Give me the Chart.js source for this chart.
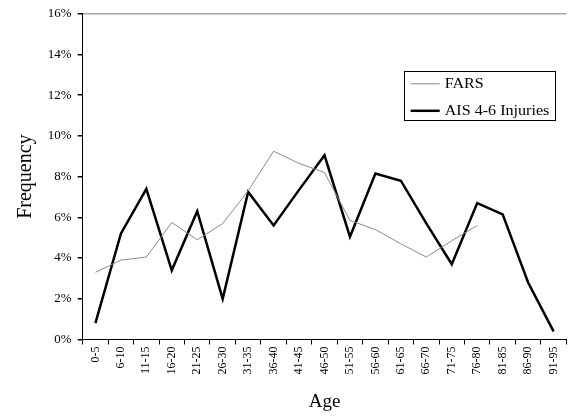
<!DOCTYPE html>
<html>
<head>
<meta charset="utf-8">
<script src="https://cdn.jsdelivr.net/npm/chart.js@4/dist/chart.umd.min.js"></script>
<style>
  html, body { margin: 0; padding: 0; background: #fff; overflow: hidden; }
  #wrap { width: 568px; height: 417px; overflow: hidden; }
  canvas { display: block; }
</style>
</head>
<body>
<div id="wrap"><canvas id="chart" width="570" height="417"></canvas></div>
<script>
// Age groups along the horizontal axis
const ageGroups = ['0-5', '6-10', '11-15', '16-20', '21-25', '26-30', '31-35', '36-40', '41-45',
  '46-50', '51-55', '56-60', '61-65', '66-70', '71-75', '76-80', '81-85', '86-90', '91-95'];

// Share of cases per age group, in percent
const farsFreq = [3.3, 3.9, 4.05, 5.75, 4.9, 5.7, 7.3, 9.25, 8.65, 8.2, 5.85, 5.4, 4.7, 4.05, 4.85, 5.6,
  null, null, null];
const aisFreq = [0.8, 5.2, 7.4, 3.4, 6.3, 2.0, 7.25, 5.6, 7.35, 9.05, 5.05, 8.15, 7.8, 5.7, 3.7, 6.7,
  6.15, 2.8, 0.4];

// Frequency axis range and step
const yMin = 0;
const yMax = 16;
const yStep = 2;

const serif = '"Liberation Serif", "Times New Roman", serif';

// Boxed legend drawn inside the plot area
const boxLegend = {
  id: 'boxLegend',
  afterDraw(chart, args, opts) {
    const ctx = chart.ctx;
    const a = chart.chartArea;
    const x = a.left + opts.x, y = a.top + opts.y;
    ctx.save();
    ctx.strokeStyle = '#000';
    ctx.lineWidth = 1;
    ctx.strokeRect(Math.round(x) + 0.5, Math.round(y) + 0.5, opts.w, opts.h);
    ctx.font = opts.fontSize + 'px ' + serif;
    ctx.fillStyle = '#000';
    ctx.textBaseline = 'middle';
    chart.data.datasets.forEach((ds, i) => {
      const ly = y + opts.firstRow + i * opts.rowGap;
      ctx.beginPath();
      ctx.strokeStyle = ds.borderColor;
      ctx.lineWidth = ds.borderWidth;
      ctx.moveTo(x + opts.sampleStart, ly);
      ctx.lineTo(x + opts.sampleStart + opts.sampleLen, ly);
      ctx.stroke();
      ctx.save();
      ctx.translate(x + opts.textStart, ly);
      ctx.scale(opts.stretch, 1);
      ctx.fillText(ds.label, 0, 1);
      ctx.restore();
    });
    ctx.restore();
  }
};

new Chart(document.getElementById('chart'), {
  type: 'line',
  data: {
    labels: ageGroups,
    datasets: [
      {
        label: 'FARS',
        data: farsFreq,
        borderColor: '#8a8a8a',
        borderWidth: 1,
        pointRadius: 0,
        tension: 0,
        spanGaps: false
      },
      {
        label: 'AIS 4-6 Injuries',
        data: aisFreq,
        borderColor: '#000000',
        borderWidth: 2.5,
        pointRadius: 0,
        tension: 0
      }
    ]
  },
  options: {
    responsive: false,
    animation: false,
    layout: { padding: { top: 10, right: 1, bottom: 0, left: 0 } },
    plugins: {
      legend: { display: false },
      tooltip: { enabled: false },
      boxLegend: {
        x: 321, y: 57, w: 151, h: 49,
        firstRow: 13, rowGap: 27,
        sampleStart: 7, sampleLen: 29, textStart: 41,
        fontSize: 14, stretch: 1.15
      }
    },
    scales: {
      x: {
        type: 'category',
        offset: true,
        grid: {
          offset: true,
          drawOnChartArea: false,
          color: 'rgba(0,0,0,0)',
          tickColor: '#000',
          tickLength: 5
        },
        border: { color: '#000', width: 1 },
        ticks: {
          autoSkip: false,
          minRotation: 90,
          maxRotation: 90,
          padding: 2,
          color: '#000',
          font: { family: serif, size: 12 }
        },
        title: {
          display: true,
          text: 'Age',
          color: '#000',
          font: { family: serif, size: 19 },
          padding: { top: 0, bottom: 4 }
        },
        afterFit(scale) { scale.height = 77.5; }
      },
      y: {
        min: yMin,
        max: yMax,
        grid: {
          color: (c) => (c.tick && c.tick.value === yMax ? '#a6a6a6' : 'rgba(0,0,0,0)'),
          lineWidth: 1.5,
          tickColor: '#000',
          tickLength: 5
        },
        border: { color: '#000', width: 1 },
        ticks: {
          stepSize: yStep,
          padding: 6,
          color: '#000',
          font: { family: serif, size: 13 },
          callback: (v) => v + '%'
        },
        title: {
          display: true,
          text: 'Frequency',
          color: '#000',
          font: { family: serif, size: 20 },
          padding: { top: 14, bottom: 0 }
        },
        afterFit(scale) { scale.width = 82.7; }
      }
    }
  },
  plugins: [boxLegend]
});
</script>
</body>
</html>
